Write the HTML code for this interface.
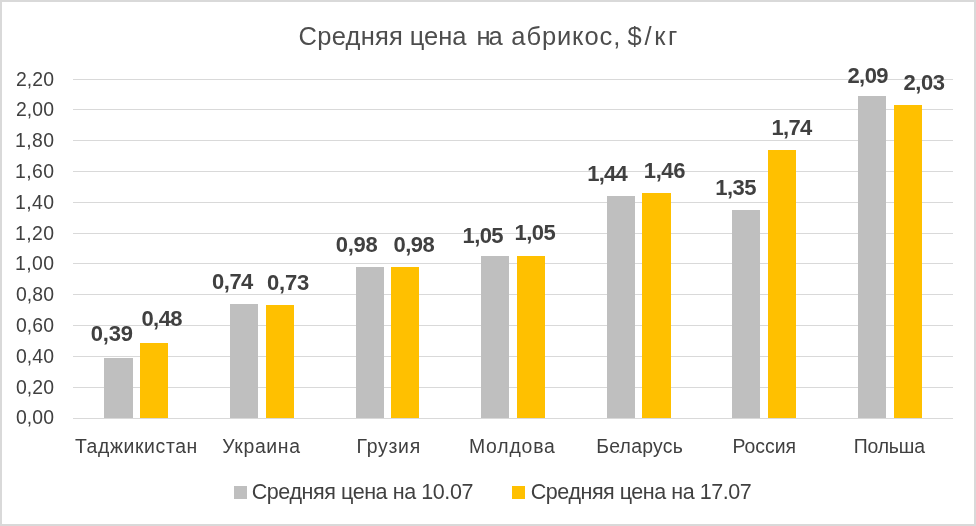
<!DOCTYPE html>
<html><head><meta charset="utf-8"><style>
html,body{margin:0;padding:0;width:976px;height:526px;overflow:hidden;background:#fff}
text{font-family:"Liberation Sans",sans-serif;fill:#404040}
.ax{font-size:19.4px}
.cat{font-size:19.4px}
.lg{font-size:21.5px}
.ti{font-size:25.5px;fill:#4d4d4d}
.dl{font-size:22px;font-weight:bold;fill:#404040}
</style></head><body>
<svg width="976" height="526" viewBox="0 0 976 526" style="position:absolute;left:0;top:0;will-change:transform">
<rect x="0" y="0" width="976" height="526" fill="#fff"/>
<rect x="1" y="1" width="974" height="524" fill="none" stroke="#d9d9d9" stroke-width="2"/>
<rect x="73" y="418" width="880" height="1" fill="#d9d9d9"/>
<rect x="73" y="387" width="880" height="1" fill="#d9d9d9"/>
<rect x="73" y="356" width="880" height="1" fill="#d9d9d9"/>
<rect x="73" y="325" width="880" height="1" fill="#d9d9d9"/>
<rect x="73" y="294" width="880" height="1" fill="#d9d9d9"/>
<rect x="73" y="263" width="880" height="1" fill="#d9d9d9"/>
<rect x="73" y="233" width="880" height="1" fill="#d9d9d9"/>
<rect x="73" y="202" width="880" height="1" fill="#d9d9d9"/>
<rect x="73" y="171" width="880" height="1" fill="#d9d9d9"/>
<rect x="73" y="140" width="880" height="1" fill="#d9d9d9"/>
<rect x="73" y="109" width="880" height="1" fill="#d9d9d9"/>
<rect x="73" y="79" width="880" height="1" fill="#d9d9d9"/>
<rect x="104" y="358" width="29" height="60" fill="#bfbfbf"/>
<rect x="140" y="343" width="28" height="75" fill="#ffc000"/>
<rect x="230" y="304" width="28" height="114" fill="#bfbfbf"/>
<rect x="266" y="305" width="28" height="113" fill="#ffc000"/>
<rect x="356" y="267" width="28" height="151" fill="#bfbfbf"/>
<rect x="391" y="267" width="28" height="151" fill="#ffc000"/>
<rect x="481" y="256" width="28" height="162" fill="#bfbfbf"/>
<rect x="517" y="256" width="28" height="162" fill="#ffc000"/>
<rect x="607" y="196" width="28" height="222" fill="#bfbfbf"/>
<rect x="642" y="193" width="29" height="225" fill="#ffc000"/>
<rect x="732" y="210" width="28" height="208" fill="#bfbfbf"/>
<rect x="768" y="150" width="28" height="268" fill="#ffc000"/>
<rect x="858" y="96" width="28" height="322" fill="#bfbfbf"/>
<rect x="894" y="105" width="28" height="313" fill="#ffc000"/>
<rect x="234" y="486" width="13" height="13" fill="#bfbfbf"/>
<rect x="512" y="486" width="13" height="13" fill="#ffc000"/>
<text x="298.50" y="44.80" class="ti" style="letter-spacing:0.267px">Средняя</text>
<text x="409.80" y="44.80" class="ti" style="letter-spacing:-0.033px">цена</text>
<text x="476.60" y="44.80" class="ti" style="letter-spacing:-2.300px">на</text>
<text x="511.30" y="44.80" class="ti" style="letter-spacing:0.900px">абрикос,</text>
<text x="627.60" y="44.80" class="ti" style="letter-spacing:2.700px">$/кг</text>
<text x="15.90" y="423.50" class="ax" style="letter-spacing:0.133px">0,00</text>
<text x="15.90" y="393.50" class="ax" style="letter-spacing:0.133px">0,20</text>
<text x="15.90" y="362.50" class="ax" style="letter-spacing:0.133px">0,40</text>
<text x="15.90" y="331.50" class="ax" style="letter-spacing:0.133px">0,60</text>
<text x="15.90" y="300.50" class="ax" style="letter-spacing:0.133px">0,80</text>
<text x="14.90" y="269.50" class="ax" style="letter-spacing:0.467px">1,00</text>
<text x="14.90" y="239.50" class="ax" style="letter-spacing:0.467px">1,20</text>
<text x="14.90" y="208.50" class="ax" style="letter-spacing:0.467px">1,40</text>
<text x="14.90" y="177.50" class="ax" style="letter-spacing:0.467px">1,60</text>
<text x="14.90" y="146.50" class="ax" style="letter-spacing:0.467px">1,80</text>
<text x="15.90" y="115.50" class="ax" style="letter-spacing:0.133px">2,00</text>
<text x="15.90" y="85.50" class="ax" style="letter-spacing:0.133px">2,20</text>
<text x="74.90" y="452.70" class="cat" style="letter-spacing:0.640px">Таджикистан</text>
<text x="222.20" y="452.70" class="cat" style="letter-spacing:0.667px">Украина</text>
<text x="356.50" y="452.70" class="cat" style="letter-spacing:0.760px">Грузия</text>
<text x="468.90" y="452.70" class="cat" style="letter-spacing:0.833px">Молдова</text>
<text x="596.20" y="452.70" class="cat" style="letter-spacing:0.257px">Беларусь</text>
<text x="732.40" y="452.70" class="cat" style="letter-spacing:0.000px">Россия</text>
<text x="853.70" y="452.70" class="cat" style="letter-spacing:-0.160px">Польша</text>
<text x="251.70" y="498.80" class="lg" style="letter-spacing:-0.420px">Средняя цена на 10.07</text>
<text x="530.80" y="498.80" class="lg" style="letter-spacing:-0.460px">Средняя цена на 17.07</text>
<text x="90.70" y="340.75" class="dl" style="letter-spacing:-0.133px">0,39</text>
<text x="141.40" y="326.10" class="dl" style="letter-spacing:-0.533px">0,48</text>
<text x="212.10" y="288.90" class="dl" style="letter-spacing:-0.533px">0,74</text>
<text x="267.00" y="289.90" class="dl" style="letter-spacing:-0.200px">0,73</text>
<text x="335.80" y="252.00" class="dl" style="letter-spacing:-0.267px">0,98</text>
<text x="393.40" y="252.00" class="dl" style="letter-spacing:-0.467px">0,98</text>
<text x="462.50" y="243.00" class="dl" style="letter-spacing:-0.600px">1,05</text>
<text x="514.40" y="240.10" class="dl" style="letter-spacing:-0.467px">1,05</text>
<text x="587.20" y="180.70" class="dl" style="letter-spacing:-0.733px">1,44</text>
<text x="643.80" y="178.00" class="dl" style="letter-spacing:-0.400px">1,46</text>
<text x="715.20" y="194.90" class="dl" style="letter-spacing:-0.533px">1,35</text>
<text x="771.50" y="134.80" class="dl" style="letter-spacing:-0.667px">1,74</text>
<text x="847.40" y="82.70" class="dl" style="letter-spacing:-0.533px">2,09</text>
<text x="903.40" y="89.70" class="dl" style="letter-spacing:-0.400px">2,03</text>
</svg>
</body></html>
